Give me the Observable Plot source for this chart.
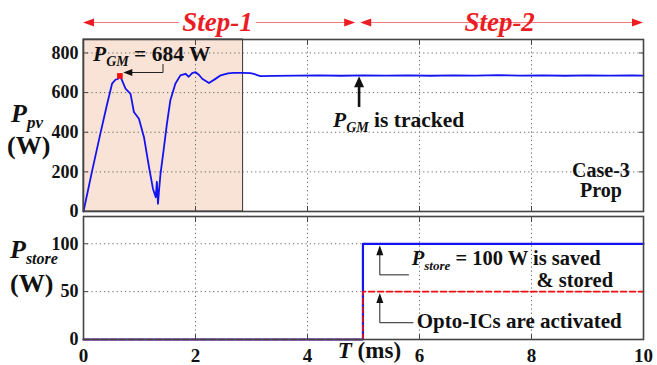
<!DOCTYPE html>
<html><head><meta charset="utf-8">
<script src="https://cdn.jsdelivr.net/npm/d3@7"></script>
<script src="https://cdn.jsdelivr.net/npm/@observablehq/plot@0.6"></script>
<style>
body{margin:0;background:#fff;}
#chart{position:relative;width:657px;height:365px;overflow:hidden;font-family:'Liberation Serif',serif;}
#chart svg{position:absolute;left:0;overflow:visible;}
#chart svg text{font-family:'Liberation Serif',serif !important;}
</style></head><body><div id="chart"></div>
<script>
// ---- data ----
const tTicks = [0, 2, 4, 6, 8, 10];
const pvTicks = [0, 200, 400, 600, 800];
const storeTicks = [0, 50, 100];

const pvTime  = [0, 0.15, 0.30, 0.42, 0.51, 0.57, 0.62, 0.65, 0.69, 0.75, 0.84, 0.90, 0.99, 1.08, 1.17, 1.24, 1.29, 1.31, 1.33, 1.35, 1.375, 1.43, 1.49, 1.55, 1.64, 1.73, 1.82, 1.88, 1.94, 2.0, 2.06, 2.12, 2.24, 2.35, 2.45, 2.58, 2.68, 2.85, 2.98, 3.04, 3.1, 3.16, 3.4, 3.8, 4.2, 4.6, 5.0, 5.4, 5.8, 6.2, 6.6, 7.0, 7.4, 7.8, 8.2, 8.6, 9.0, 9.4, 9.8, 10];
const pvPower = [0, 200, 392, 540, 645, 665, 670, 684, 660, 620, 594, 502, 468, 375, 224, 115, 72, 150, 39, 110, 190, 308, 443, 560, 645, 687, 695, 680, 698, 703, 690, 670, 648, 668, 687, 697, 700, 700, 698, 695, 688, 683, 684, 686, 687, 685, 687, 686, 687, 685, 687, 686, 688, 686, 687, 685, 687, 686, 687, 686];

const storeTime  = [0, 4.99, 4.99, 10];
const storeSaved = [0, 0, 100, 100];
const optoActive = [0, 0, 50, 50];

const peakTime = 0.65, peakPower = 684;
const shadeEnd = 2.85;
const stepBoundary = [4.86, 4.95];
const stepLabels = ["Step-1", "Step-2"];

const pvRows = pvTime.map((t, i) => ({t, p: pvPower[i]}));
const storeRows = storeTime.map((t, i) => ({t, saved: storeSaved[i], opto: optoActive[i]}));

const FONT = "'Liberation Serif', serif";
const chart = document.getElementById("chart");

function richText(g, x, y, parts, size, opts = {}) {
  const t = g.append("text").attr("x", x).attr("y", y)
    .style("font-family", FONT).style("font-weight", "bold")
    .style("font-size", size + "px").attr("fill", opts.fill || "#111")
    .attr("text-anchor", opts.anchor || "start");
  let shift = 0;
  for (const [s, st] of parts) {
    const sp = t.append("tspan").text(s);
    if (st && st.includes("i")) sp.style("font-style", "italic");
    if (st && st.includes("s")) {
      const sub = Math.round(size * 0.24);
      sp.style("font-size", Math.round(size * (opts.sub || 0.64)) + "px").attr("dy", sub - shift); shift = sub;
    } else if (shift) { sp.attr("dy", -shift); shift = 0; }
  }
  return t;
}
function head(g, x, y, dir, len, hw, color) {
  const pts = {
    left:  [[x, y], [x + len, y - hw], [x + len, y + hw]],
    right: [[x, y], [x - len, y - hw], [x - len, y + hw]],
    up:    [[x, y], [x - hw, y + len], [x + hw, y + len]]
  }[dir];
  g.append("path").attr("d", "M" + pts.join("L") + "Z").attr("fill", color);
}
function poly(g, pts, color, w) {
  g.append("path").attr("d", "M" + pts.join("L")).attr("fill", "none").attr("stroke", color).attr("stroke-width", w);
}

const gridStyle = {stroke: "#666", strokeOpacity: 1, strokeDasharray: "1.2,3", strokeWidth: 1};
const plotStyle = {background: "transparent", fontFamily: FONT, fontSize: "17px", fontWeight: "bold", color: "#111", overflow: "visible"};

// ---- top panel ----
const topPlot = Plot.plot({
  width: 657, height: 215,
  marginTop: 39, marginBottom: 4, marginLeft: 83, marginRight: 14,
  style: plotStyle,
  x: {domain: [0, 10]},
  y: {domain: [0, 868]},
  marks: [
    Plot.rectY([{x1: 0, x2: shadeEnd}], {x1: "x1", x2: "x2", y1: 0, y2: 868, fill: "#f9e3d6", stroke: "#333", strokeWidth: 1}),
    Plot.gridX(tTicks.slice(1, -1), gridStyle),
    Plot.gridY(pvTicks.slice(1), gridStyle),
    Plot.axisY({ticks: pvTicks, tickSize: -5, tickPadding: 10, label: null, fontSize: 18, fontWeight: "bold", stroke: "#444"}),
    Plot.axisY({anchor: "right", ticks: pvTicks, tickSize: -5, tickFormat: () => "", label: null, stroke: "#444"}),
    Plot.axisX({anchor: "bottom", ticks: tTicks, tickSize: -5, tickFormat: () => "", label: null, stroke: "#444"}),
    Plot.axisX({anchor: "top", ticks: tTicks, tickSize: -5, tickFormat: () => "", label: null, stroke: "#444"}),
    Plot.line(pvRows, {x: "t", y: "p", stroke: "#1414f0", strokeWidth: 1.8}),
    Plot.dot([{t: peakTime, p: peakPower}], {x: "t", y: "p", symbol: "square", r: 3.2, fill: "#f01010"}),
    Plot.frame({stroke: "#444", strokeWidth: 1.6})
  ]
});
topPlot.style.top = "0px";

// ---- bottom panel ----
const botPlot = Plot.plot({
  width: 657, height: 160,
  marginTop: 11, marginBottom: 26, marginLeft: 83, marginRight: 14,
  style: plotStyle,
  x: {domain: [0, 10]},
  y: {domain: [0, 128.5]},
  marks: [
    Plot.gridX(tTicks.slice(1, -1), gridStyle),
    Plot.gridY(storeTicks.slice(1), gridStyle),
    Plot.axisY({ticks: storeTicks, tickSize: -5, tickPadding: 10, label: null, fontSize: 18, fontWeight: "bold", stroke: "#444"}),
    Plot.axisY({anchor: "right", ticks: storeTicks, tickSize: -5, tickFormat: () => "", label: null, stroke: "#444"}),
    Plot.axisX({anchor: "bottom", ticks: tTicks, tickSize: -5, tickPadding: 14, label: null, fontSize: 19, fontWeight: "bold", stroke: "#444"}),
    Plot.axisX({anchor: "top", ticks: tTicks, tickSize: -5, tickFormat: () => "", label: null, stroke: "#444"}),
    Plot.line(storeRows, {x: "t", y: "saved", stroke: "#1414f0", strokeWidth: 2.2}),
    Plot.line(storeRows, {x: "t", y: "opto", stroke: "#f01010", strokeWidth: 1.6, strokeDasharray: "6,3"}),
    Plot.frame({stroke: "#444", strokeWidth: 1.6})
  ]
});
botPlot.style.top = "205px";
chart.appendChild(botPlot);
chart.appendChild(topPlot);

// ---- annotations (top) ----
{
  const sx = topPlot.scale("x"), sy = topPlot.scale("y");
  const X = v => sx.apply(v), Y = v => sy.apply(v);
  const g = d3.select(topPlot).append("g");
  const yA = 22.5, red = "#ec1c24", pale = "#f27c7c";
  const ranges = [[0, stepBoundary[0]], [stepBoundary[1], 10]];
  ranges.forEach(([a, b], i) => {
    const xa = X(a), xb = X(b);
    poly(g, [[xa + 4, yA], [xb - 4, yA]], pale, 1.2);
    head(g, xa, yA, "left", 11, 4, red);
    head(g, xb, yA, "right", 11, 4, red);
    const cx = i === 0 ? X(2.4) : X(7.44);
    const tx = richText(g, cx, 30.5, [[stepLabels[i], "i"]], 27, {anchor: "middle", fill: red});
    const bb = tx.node().getBBox();
    g.insert("rect", "text").attr("x", bb.x - 3).attr("y", yA - 3).attr("width", bb.width + 6).attr("height", 6).attr("fill", "#fff");
  });
  richText(g, 93, 61, [["P", "i"], ["GM", "is"], [" = 684 W", ""]], 21.5);
  poly(g, [[163, 64], [163, 72.5], [X(0.72) + 8, 72.5]], "#222", 1);
  head(g, X(0.72), 72.5, "left", 9, 3.5, "#111");
  const ax = X(4.93);
  poly(g, [[ax, Y(660)], [ax, Y(525)]], "#111", 2.6);
  head(g, ax, Y(680), "up", 11, 5, "#111");
  richText(g, 333, 127, [["P", "i"], ["GM", "is"], [" is tracked", ""]], 21.5);
  richText(g, 601, 177, [["Case-3", ""]], 20, {anchor: "middle"});
  richText(g, 601, 197, [["Prop", ""]], 20, {anchor: "middle"});
  richText(g, 11, 122, [["P", "i"], ["pv", "is"]], 26);
  richText(g, 7, 154, [["(W)", ""]], 26);
}
// ---- annotations (bottom) ----
{
  const sx = botPlot.scale("x"), sy = botPlot.scale("y");
  const X = v => sx.apply(v), Y = v => sy.apply(v);
  const g = d3.select(botPlot).append("g");
  const ax = X(5.3);
  poly(g, [[ax, Y(98) + 9], [ax, Y(67)], [X(5.82), Y(67)]], "#222", 1);
  head(g, ax, Y(98), "up", 10, 3.5, "#111");
  richText(g, X(5.87), Y(77), [["P", "i"], ["store", "is"], [" = 100 W is saved", ""]], 20.5);
  richText(g, X(8.1), Y(54), [["& stored", ""]], 20.5);
  poly(g, [[ax, Y(48) + 9], [ax, Y(17)], [X(5.9), Y(17)]], "#222", 1);
  head(g, ax, Y(48), "up", 10, 3.5, "#111");
  richText(g, X(5.96), Y(12), [["Opto-ICs are activated", ""]], 21);
  richText(g, X(4.55), Y(-20), [["T", "i"], [" (ms)", ""]], 23);
  richText(g, 10, 53, [["P", "i"], ["store", "is"]], 26, {sub: 0.6});
  richText(g, 10, 87, [["(W)", ""]], 26);
}
</script></body></html>
